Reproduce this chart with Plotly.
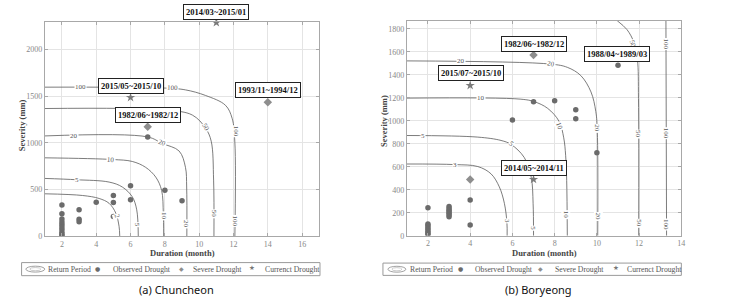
import plotly.graph_objects as go

W, H = 751, 303

# ---------------- data: (a) Chuncheon ----------------
a_obs_d = [2, 2, 2, 2, 2, 2, 2, 2, 2, 2, 3, 3, 3, 4, 5, 5, 5, 6, 6, 7, 8, 9]
a_obs_s = [334, 239, 182, 151, 123, 98, 70, 42, 18, 2, 281, 180, 152, 362, 435, 361, 210, 540, 389, 1063, 491, 379]
a_sev_d = [7, 14]
a_sev_s = [1172, 1435]
a_cur_d = [6, 11]
a_cur_s = [1487, 2290]
a_periods = ["2", "5", "10", "20", "50", "100"]
a_curve_d = [
    [1, 3.2, 4.17, 4.75, 5.14, 5.33, 5.37],
    [1, 2.85, 4.75, 5.52, 6.1, 6.36, 6.45],
    [1, 4.94, 6.1, 6.88, 7.47, 7.81, 7.91, 7.93],
    [1, 7.0, 7.85, 8.83, 9.2, 9.27, 9.28],
    [1, 8.05, 9.6, 10.37, 10.7, 10.84, 10.86],
    [1, 8.05, 9.2, 10.37, 11.53, 11.92, 12.08, 12.08],
]
a_curve_s = [
    [453, 435, 403, 351, 246, 105, 0],
    [618, 604, 579, 526, 421, 281, 0],
    [839, 821, 800, 737, 632, 491, 246, 0],
    [1074, 1063, 993, 912, 737, 526, 0],
    [1368, 1351, 1298, 1158, 1018, 600, 0],
    [1597, 1587, 1568, 1508, 1403, 1263, 1000, 0],
]
a_lab_text = ["2", "5", "5", "10", "10", "20", "20", "20", "50", "50", "100", "100", "100", "100"]
a_lab_d = [5.2, 2.85, 6.4, 4.85, 7.92, 2.7, 7.85, 9.27, 10.37, 10.86, 3.1, 8.43, 12.12, 12.08]
a_lab_s = [215, 604, 118, 821, 211, 1074, 993, 133, 1170, 239, 1597, 1587, 1123, 158]
a_lab_ang = [75, 0, 90, 3, 90, 0, 20, 90, 60, 90, 0, 2, 90, 90]
a_box_text = ["2014/03~2015/01", "2015/05~2015/10", "1982/06~1982/12", "1993/11~1994/12"]
a_box_d = [11.0, 6.01, 7.02, 14.03]
a_box_s = [2405, 1614, 1303, 1566]

# ---------------- data: (b) Boryeong ----------------
b_obs_d = [2, 2, 2, 2, 2, 2, 2, 2, 3, 3, 3, 3, 3, 3, 3, 4, 4, 6, 7, 8, 9, 9, 10, 11]
b_obs_s = [243, 103, 90, 72, 56, 38, 24, 12, 255, 238, 222, 208, 195, 180, 165, 311, 94, 1006, 1166, 1174, 1097, 1017, 721, 1484]
b_sev_d = [7, 4]
b_sev_s = [1573, 490]
b_cur_d = [4, 7]
b_cur_s = [1307, 490]
b_periods = ["3", "5", "10", "20", "50", "100"]
b_curve_d = [
    [1, 3.26, 4.36, 4.99, 5.38, 5.62, 5.74, 5.75],
    [1, 4.36, 5.46, 5.93, 6.56, 6.89, 6.98, 7.0],
    [1, 6.4, 7.04, 7.67, 8.21, 8.43, 8.52, 8.57, 8.6],
    [1, 7.82, 8.6, 9.24, 9.72, 9.95, 10.02, 10.04],
    [10.96, 11.43, 11.76, 11.92, 11.97, 11.98],
    [13.27, 13.3],
]
b_curve_s = [
    [624, 619, 602, 538, 425, 282, 115, 0],
    [872, 858, 829, 795, 681, 510, 282, 0],
    [1197, 1188, 1166, 1108, 995, 852, 700, 482, 0],
    [1521, 1493, 1465, 1393, 1251, 1080, 909, 0],
    [1871, 1792, 1679, 1536, 1194, 0],
    [1871, 0],
]
b_lab_text = ["3", "3", "5", "5", "5", "10", "10", "10", "20", "20", "20", "20", "50", "50", "50", "100", "100", "100"]
b_lab_d = [3.26, 5.74, 1.76, 5.93, 7.0, 4.51, 8.2, 8.54, 3.57, 7.82, 9.99, 10.05, 11.68, 11.97, 11.98, 13.27, 13.28, 13.3]
b_lab_s = [619, 130, 872, 795, 69, 1197, 952, 183, 1521, 1493, 937, 168, 1664, 880, 111, 1664, 895, 97]
b_lab_ang = [0, 90, 0, 40, 90, 0, 70, 90, 0, 10, 90, 90, 70, 90, 90, 90, 90, 90]
b_box_text = ["1982/06~1982/12", "2015/07~2015/10", "1988/04~1989/03", "2014/05~2014/11"]
b_box_d = [7.0, 4.04, 10.96, 7.0]
b_box_s = [1664, 1415, 1579, 591]

a_xticks = [2, 4, 6, 8, 10, 12, 14, 16]
a_yticks = [0, 500, 1000, 1500, 2000]
b_xticks = [2, 4, 6, 8, 10, 12, 14]
b_yticks = [0, 200, 400, 600, 800, 1000, 1200, 1400, 1600, 1800]
a_yrange = [0, 2300]
b_yrange = [0, 1871]

legend_labels = ["Return Period", "Observed Drought", "Severe Drought", "Currenct Drought"]
captions = ["(a) Chuncheon", "(b) Boryeong"]


def PX(x):
    return x / W


def PY(y):
    return 1 - y / H


SERIF = "Liberation Serif"
LINE_C = "#5a5a5a"
OBS_C = "#6b6b6b"
SEV_C = "#8e8e8e"
CUR_C = "#7a7a7a"

fig = go.Figure()
annotations = []
shapes = []


def add_panel(xa, ya, yrange, curve_d, curve_s, obs_d, obs_s, sev_d, sev_s, cur_d, cur_s,
              lab_text, lab_d, lab_s, lab_ang, box_text, box_d, box_s):
    for d, s in zip(curve_d, curve_s):
        fig.add_trace(go.Scatter(x=d, y=s, mode="lines", xaxis=xa, yaxis=ya,
                                 line=dict(color=LINE_C, width=0.8, shape="spline", smoothing=1.0),
                                 hoverinfo="skip"))
    fig.add_trace(go.Scatter(x=obs_d, y=obs_s, mode="markers", xaxis=xa, yaxis=ya,
                             marker=dict(symbol="circle", size=5.5, color=OBS_C)))
    fig.add_trace(go.Scatter(x=sev_d, y=sev_s, mode="markers", xaxis=xa, yaxis=ya,
                             marker=dict(symbol="diamond", size=6.5, color=SEV_C)))
    fig.add_trace(go.Scatter(x=cur_d, y=cur_s, mode="markers", xaxis=xa, yaxis=ya, cliponaxis=False,
                             marker=dict(symbol="star", size=7, color=CUR_C)))
    for t, d, s, a in zip(lab_text, lab_d, lab_s, lab_ang):
        annotations.append(dict(x=d, y=s, xref=xa, yref=ya, text=t, showarrow=False,
                                textangle=a, bgcolor="white", borderpad=0,
                                xanchor="center", yanchor="middle",
                                font=dict(family=SERIF, size=7, color="#555")))
    for t, d, s in zip(box_text, box_d, box_s):
        annotations.append(dict(x=d, y=s / yrange[1], xref=xa, yref=ya + " domain",
                                text="<b>" + t + "</b>", showarrow=False,
                                xanchor="center", yanchor="middle",
                                bgcolor="white", bordercolor="#222", borderwidth=1, borderpad=2,
                                font=dict(family=SERIF, size=8.5, color="#111")))


add_panel("x", "y", a_yrange, a_curve_d, a_curve_s, a_obs_d, a_obs_s, a_sev_d, a_sev_s, a_cur_d, a_cur_s,
          a_lab_text, a_lab_d, a_lab_s, a_lab_ang, a_box_text, a_box_d, a_box_s)
add_panel("x2", "y2", b_yrange, b_curve_d, b_curve_s, b_obs_d, b_obs_s, b_sev_d, b_sev_s, b_cur_d, b_cur_s,
          b_lab_text, b_lab_d, b_lab_s, b_lab_ang, b_box_text, b_box_d, b_box_s)

axis_common = dict(showgrid=True, gridcolor="#e4e4e4", gridwidth=1, zeroline=False,
                   showline=True, linecolor="#a8a8a8", linewidth=1, mirror="ticks",
                   ticks="inside", ticklen=3, tickcolor="#a8a8a8",
                   tickfont=dict(family=SERIF, size=8, color="#888"))

fig.update_layout(
    width=W, height=H, margin=dict(l=0, r=0, t=0, b=0),
    paper_bgcolor="white", plot_bgcolor="white", showlegend=False,
    xaxis=dict(domain=[PX(45), PX(321)], range=[1, 17], tickvals=a_xticks, anchor="y", **axis_common),
    yaxis=dict(domain=[PY(240), PY(22)], range=a_yrange, tickvals=a_yticks, anchor="x", **axis_common),
    xaxis2=dict(domain=[PX(409), PX(685)], range=[1, 14], tickvals=b_xticks, anchor="y2", **axis_common),
    yaxis2=dict(domain=[PY(239.7), PY(21)], range=b_yrange, tickvals=b_yticks, anchor="x2", **axis_common),
)


def paper_text(x, y, text, font, **kw):
    d = dict(x=PX(x), y=PY(y), xref="paper", yref="paper", showarrow=False,
             text=text, font=font, xanchor="center", yanchor="middle")
    d.update(kw)
    annotations.append(d)


# axis titles
for cx in [183, 547]:
    paper_text(cx, 257, "<b>Duration (month)</b>", dict(family=SERIF, size=8.5, color="#444"))
for cx, cy in [(22.5, 127), (386, 123)]:
    paper_text(cx, cy, "<b>Severity (mm)</b>", dict(family=SERIF, size=8.5, color="#444"), textangle=-90)


# legends (drawn by hand)
def draw_legend(x0, x1, y0, y1, ell, icon_x, text_x):
    shapes.append(dict(type="rect", xref="paper", yref="paper", x0=PX(x0), x1=PX(x1), y0=PY(y1), y1=PY(y0),
                       line=dict(color="#9a9a9a", width=1), fillcolor="white", layer="below"))
    ex0, ex1 = ell
    ym = (y0 + y1) / 2
    shapes.append(dict(type="circle", xref="paper", yref="paper", x0=PX(ex0), x1=PX(ex1),
                       y0=PY(ym + 3), y1=PY(ym - 3), line=dict(color="#8a8a8a", width=0.8)))
    shapes.append(dict(type="circle", xref="paper", yref="paper", x0=PX(ex0 + 4), x1=PX(ex1 - 4),
                       y0=PY(ym + 1.6), y1=PY(ym - 1.6), line=dict(color="#aaaaaa", width=0.6)))
    glyphs = [("●", 6, "#6b6b6b"), ("◆", 6, "#8e8e8e"), ("★", 6.5, "#777")]
    for (g, sz, col), ix in zip(glyphs, icon_x):
        paper_text(ix, ym - 0.8, g, dict(family="DejaVu Sans", size=sz, color=col))
    for t, tx in zip(legend_labels, text_x):
        paper_text(tx, ym, t, dict(family=SERIF, size=7.7, color="#555"), xanchor="left")


draw_legend(21.7, 321.7, 267, 280.3, (26, 45), [98.3, 182.7, 253.7], [46, 111.5, 192.5, 264.5])
draw_legend(385, 685, 267.5, 280, (390, 408), [462.7, 543.7, 619.3], [410, 476, 556, 628.5])

# captions
for t, cx in zip(captions, [177, 541]):
    paper_text(cx, 294, t, dict(family="Noto Sans", size=11, color="#111"))

fig.update_layout(annotations=annotations, shapes=shapes)
fig.write_html("out.html")
